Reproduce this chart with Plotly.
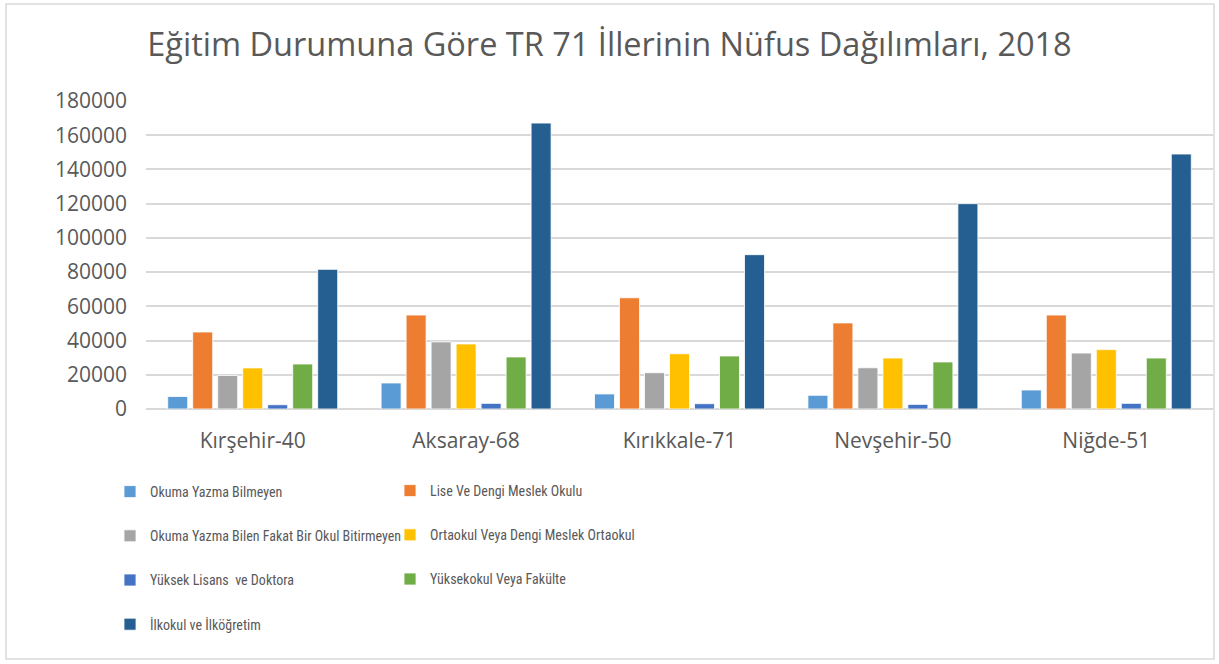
import plotly.graph_objects as go

categories = ["Kırşehir-40", "Aksaray-68", "Kırıkkale-71", "Nevşehir-50", "Niğde-51"]

okuma_yazma_bilmeyen = [7300, 15200, 8800, 8000, 11100]
lise = [45000, 54900, 65000, 50300, 54900]
okuma_bilen = [19600, 39200, 21200, 24100, 32700]
ortaokul = [24000, 38000, 32300, 29800, 34700]
yuksek_lisans = [2500, 3300, 3100, 2700, 3300]
yuksekokul = [26300, 30400, 31000, 27500, 29800]
ilkokul = [81600, 167100, 90200, 120000, 149000]

series = [
    ("Okuma Yazma Bilmeyen", okuma_yazma_bilmeyen, "#5B9BD5", "legend"),
    ("Lise Ve Dengi Meslek Okulu", lise, "#ED7D31", "legend2"),
    ("Okuma Yazma Bilen Fakat Bir Okul Bitirmeyen", okuma_bilen, "#A5A5A5", "legend"),
    ("Ortaokul Veya Dengi Meslek Ortaokul", ortaokul, "#FFC000", "legend2"),
    ("Yüksek Lisans  ve Doktora", yuksek_lisans, "#4472C4", "legend"),
    ("Yüksekokul Veya Fakülte", yuksekokul, "#70AD47", "legend2"),
    ("İlkokul ve İlköğretim", ilkokul, "#255E91", "legend"),
]

W, H = 1219, 664
L, R, T, B = 146, 6, 101, 255

fig = go.Figure()
for i, (name, vals, color, leg) in enumerate(series):
    fig.add_trace(go.Bar(
        x=categories, y=vals, name=name.replace("  ", "&nbsp; "),
        marker=dict(color=color, line=dict(color="white", width=0.8)),
        legend=leg, legendgroup=f"g{i}",
        hovertemplate="%{x}: %{y}<extra>" + name + "</extra>",
    ))

grey = "#595959"
pw = W - L - R
ph = H - T - B

def px_x(px):
    return (px - L) / pw

def px_y(py):
    return (H - B - py) / ph

legend_font = dict(family="Liberation Sans Narrow, Arial Narrow, Roboto Condensed, Roboto", size=14, color=grey)

fig.update_layout(
    width=W, height=H,
    margin=dict(l=L, r=R, t=T, b=B, autoexpand=False),
    paper_bgcolor="white", plot_bgcolor="white",
    barmode="group", bargap=0.18, bargroupgap=0.2,
    title=dict(text="Eğitim Durumuna Göre TR 71 İllerinin Nüfus Dağılımları, 2018",
               font=dict(family="Open Sans", size=32.5, color=grey),
               x=0.5, xref="container", xanchor="center",
               y=1 - 45 / H, yref="container", yanchor="middle"),
    font=dict(family="Open Sans", color=grey),
    legend=dict(xref="container", yref="container", x=110 / W, y=(H - 558) / H,
                xanchor="left", yanchor="middle", orientation="v",
                font=legend_font, tracegroupgap=23, bgcolor="rgba(0,0,0,0)", itemwidth=30),
    legend2=dict(xref="container", yref="container", x=390 / W, y=(H - 535) / H,
                 xanchor="left", yanchor="middle", orientation="v",
                 font=legend_font, tracegroupgap=23, bgcolor="rgba(0,0,0,0)", itemwidth=30),
    xaxis=dict(showgrid=False, showline=False, ticks="", tickangle=0,
               tickfont=dict(family="Open Sans", size=21, color=grey),
               ticklabelstandoff=17),
    yaxis=dict(range=[0, 180000], dtick=20000, tickformat="d",
               showgrid=True, gridcolor="#D9D9D9", gridwidth=1.5,
               zeroline=True, zerolinecolor="#D9D9D9", zerolinewidth=1.5,
               showline=False, ticks="",
               tickfont=dict(family="Open Sans", size=21, color=grey),
               ticklabelstandoff=18),
    shapes=[dict(type="rect", xref="paper", yref="paper",
                 x0=px_x(6), x1=px_x(1214), y0=px_y(659), y1=px_y(4),
                 line=dict(color="#D9D9D9", width=1.5), fillcolor="rgba(0,0,0,0)", layer="above")],
)

fig.write_html("out.html", config={"displayModeBar": False},
               post_script="document.body.style.margin='0';document.body.style.padding='0';")
